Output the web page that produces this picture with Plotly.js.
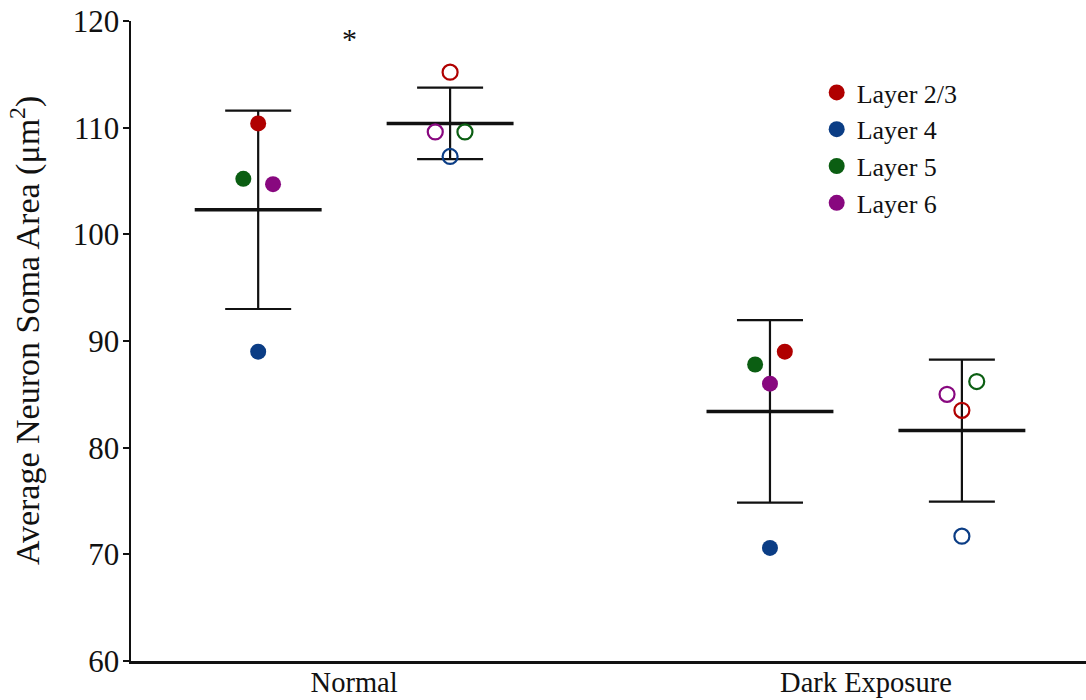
<!DOCTYPE html>
<html>
<head>
<meta charset="utf-8">
<script src="https://cdn.plot.ly/plotly-3.0.1.min.js"></script>
<style>html,body{margin:0;padding:0;background:#fff;}#chart{width:1086px;height:700px;}</style>
</head>
<body>
<div id="chart"></div>
<script>
// ---- data ----
var conditions = ['Normal', 'Dark Exposure'];
// four columns: Normal (filled), Normal (open), Dark Exposure (filled), Dark Exposure (open)
var columnCondition = [1, 1, 2, 2];
var columnFilled = [true, false, true, false];
var layerNames = ['Layer 2/3', 'Layer 4', 'Layer 5', 'Layer 6'];
var layer23 = [110.4, 115.2, 89.0, 83.5];
var layer4  = [89.0, 107.3, 70.6, 71.7];
var layer5  = [105.2, 109.6, 87.8, 86.2];
var layer6  = [104.7, 109.6, 86.0, 85.0];
var columnMeans = [102.3, 110.4, 83.4, 81.6];
var columnSD    = [9.3, 3.35, 8.55, 6.65];
var yTitle = 'Average Neuron Soma Area (μm<sup>2</sup>)';
var significance = '*';

// ---- styling / positions ----
var layerValues = [layer23, layer4, layer5, layer6];
var layerColors = ['#b00000', '#0b3d85', '#0b5e12', '#88087f'];
var subOffset = 0.1875;
// horizontal jitter (axis units) per layer per column, to separate overlapping dots
var jitter = [
  [0, 0, 0.029, 0],
  [0, 0, 0, 0],
  [-0.029, 0.029, -0.029, 0.029],
  [0.029, -0.029, 0, -0.029]
];
function colX(c) { return columnCondition[c] + (columnFilled[c] ? -subOffset : subOffset); }

var FONT = 'Liberation Serif, Times New Roman, serif';
var traces = [];

// mean line + SD error bars
traces.push({
  type: 'scatter', mode: 'markers',
  x: columnMeans.map(function (_, c) { return colX(c); }),
  y: columnMeans,
  marker: {size: 1, opacity: 0},
  error_y: {type: 'data', array: columnSD, visible: true, width: 33, thickness: 2.2, color: '#111'},
  error_x: {type: 'constant', value: 0.124, visible: true, width: 0, thickness: 3.5, color: '#111'},
  showlegend: false, hoverinfo: 'skip'
});

layerValues.forEach(function (vals, li) {
  ['filled', 'open'].forEach(function (kind) {
    var xs = [], ys = [];
    vals.forEach(function (v, c) {
      if ((kind === 'filled') === columnFilled[c]) {
        xs.push(colX(c) + jitter[li][c]);
        ys.push(v);
      }
    });
    traces.push({
      type: 'scatter', mode: 'markers',
      name: layerNames[li],
      x: xs, y: ys,
      showlegend: kind === 'filled',
      marker: kind === 'filled'
        ? {size: 16, color: layerColors[li], line: {width: 0}}
        : {size: 15, symbol: 'circle-open', color: layerColors[li], line: {width: 2.2, color: layerColors[li]}}
    });
  });
});

var layout = {
  width: 1086, height: 700,
  margin: {l: 131, r: 0, t: 21, b: 39},
  paper_bgcolor: '#fff', plot_bgcolor: '#fff',
  font: {family: FONT, color: '#111'},
  showlegend: true,
  legend: {
    x: 0.718, y: 0.925, xanchor: 'left', yanchor: 'top',
    font: {family: FONT, size: 26, color: '#111'},
    bgcolor: 'rgba(0,0,0,0)', tracegroupgap: 0, itemsizing: 'trace'
  },
  xaxis: {
    range: [0.564, 2.43],
    tickvals: [1, 2], ticktext: conditions,
    showgrid: false, zeroline: false,
    showline: true, linewidth: 2.5, linecolor: '#111',
    ticks: '', ticklabelstandoff: -6,
    tickfont: {family: FONT, size: 28.5, color: '#111'}
  },
  yaxis: {
    range: [60, 120], dtick: 10, tick0: 60,
    showgrid: false, zeroline: false,
    showline: true, linewidth: 2.5, linecolor: '#111',
    ticks: 'outside', ticklen: 6, tickwidth: 2, tickcolor: '#111',
    ticklabelstandoff: -3,
    tickfont: {family: FONT, size: 31, color: '#111'}
  },
  annotations: [{
    x: 0.99, y: 118.4, xref: 'x', yref: 'y',
    text: significance, showarrow: false,
    font: {family: FONT, size: 30, color: '#111'},
    xanchor: 'center', yanchor: 'middle'
  }, {
    x: -0.111, y: 0.517, xref: 'paper', yref: 'paper',
    text: yTitle, showarrow: false, textangle: -90,
    font: {family: FONT, size: 34, color: '#111'},
    xanchor: 'center', yanchor: 'middle'
  }]
};

Plotly.newPlot('chart', traces, layout, {displayModeBar: false, staticPlot: true});
</script>
</body>
</html>
